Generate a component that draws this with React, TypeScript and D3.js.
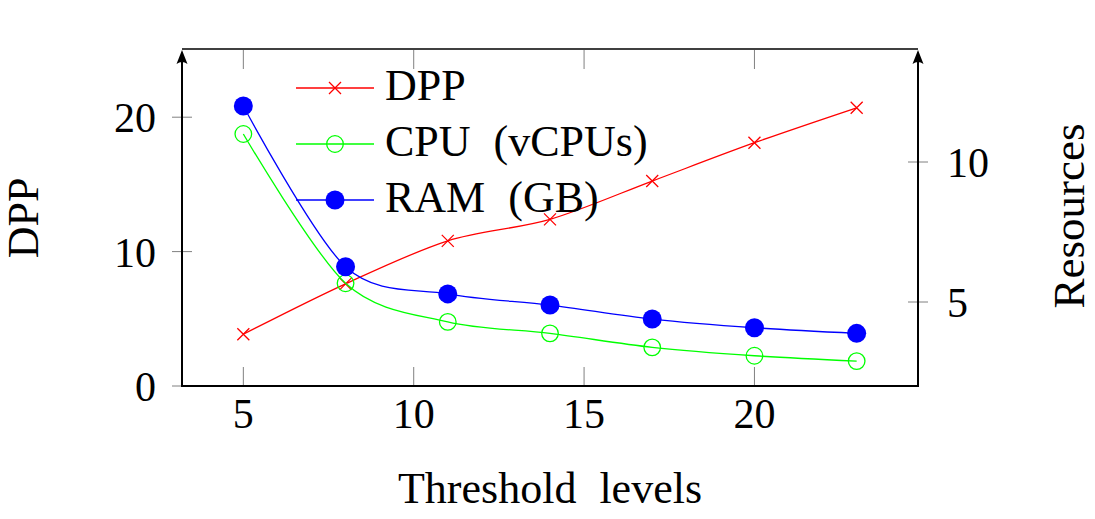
import React from "react";
import * as d3 from "d3";

const thresholds = [5, 8, 11, 14, 17, 20, 23];
const dppValues = [3.85, 7.6, 10.8, 12.4, 15.25, 18.1, 20.7];
const cpuValues = [11, 5.67, 4.29, 3.88, 3.38, 3.08, 2.89];
const ramValues = [12, 6.26, 5.29, 4.89, 4.39, 4.08, 3.88];
const xTicks = [5, 10, 15, 20];
const leftTicks = [0, 10, 20];
const rightTicks = [5, 10];
const legendLabels = ["DPP", "CPU (vCPUs)", "RAM (GB)"];

const W = 1095;
const H = 519;
const L = 182, R = 918, T = 50, B = 386;
const FONT = "'Liberation Serif', 'Times New Roman', serif";

export default function App() {
  const x = d3.scaleLinear().domain([3.2, 24.8]).range([L, R]);
  const yL = d3.scaleLinear().domain([0, 25]).range([B, T]);
  const yR = d3.scaleLinear().domain([2, 14]).range([B, T]);

  const curve = d3.curveCardinal.tension(0.08);
  const lineL = d3.line<number>().x((_, i) => x(thresholds[i])).y((d) => yL(d)).curve(curve);
  const lineR = d3.line<number>().x((_, i) => x(thresholds[i])).y((d) => yR(d)).curve(curve);

  const cross = (cx: number, cy: number, s = 6) =>
    `M${cx - s},${cy - s}L${cx + s},${cy + s}M${cx - s},${cy + s}L${cx + s},${cy - s}`;

  const arrow = (ax: number, ay: number) =>
    `M${ax},${ay} L${ax + 5.5},${ay + 14} Q${ax},${ay + 10} ${ax - 5.5},${ay + 14} Z`;

  const legendRows = [T + 38, T + 94, T + 150];
  const lx0 = 296, lx1 = 374, lmx = 335, ltx = 385;

  return (
    <svg width={W} height={H} style={{ position: "absolute", left: 0, top: 0, background: "#fff" }}
      fontFamily={FONT}>
      <rect x={0} y={0} width={W} height={H} fill="#fff" />
      {/* ticks */}
      {xTicks.map((t) => (
        <g key={"xt" + t} stroke="#808080" strokeWidth={1}>
          <line x1={x(t)} x2={x(t)} y1={B} y2={B - 19} />
          <line x1={x(t)} x2={x(t)} y1={T} y2={T + 19} />
        </g>
      ))}
      {leftTicks.map((t) => (
        <line key={"lt" + t} x1={L - 10} x2={L + 10} y1={yL(t)} y2={yL(t)} stroke="#808080" strokeWidth={1} />
      ))}
      {rightTicks.map((t) => (
        <line key={"rt" + t} x1={R - 10} x2={R + 10} y1={yR(t)} y2={yR(t)} stroke="#808080" strokeWidth={1} />
      ))}

      {/* series */}
      <path d={lineL(dppValues) || ""} fill="none" stroke="#ff0000" strokeWidth={1.3} />
      {dppValues.map((v, i) => (
        <path key={"dm" + i} d={cross(x(thresholds[i]), yL(v))} stroke="#ff0000" strokeWidth={1.3} fill="none" />
      ))}
      <path d={lineR(cpuValues) || ""} fill="none" stroke="#00ff00" strokeWidth={1.3} />
      {cpuValues.map((v, i) => (
        <circle key={"cm" + i} cx={x(thresholds[i])} cy={yR(v)} r={8.3} fill="none" stroke="#00ff00" strokeWidth={1.3} />
      ))}
      <path d={lineR(ramValues) || ""} fill="none" stroke="#0000ff" strokeWidth={1.3} />
      {ramValues.map((v, i) => (
        <circle key={"rm" + i} cx={x(thresholds[i])} cy={yR(v)} r={9.5} fill="#0000ff" />
      ))}

      {/* axis lines */}
      <line x1={L} x2={R} y1={B} y2={B} stroke="#000" strokeWidth={2} />
      <line x1={L} x2={R} y1={T - 1} y2={T - 1} stroke="#000" strokeWidth={1.6} />
      <line x1={L} x2={L} y1={B + 1} y2={T + 6} stroke="#000" strokeWidth={2} />
      <line x1={R} x2={R} y1={B + 1} y2={T + 6} stroke="#000" strokeWidth={2} />
      <path d={arrow(L, T)} fill="#000" />
      <path d={arrow(R, T)} fill="#000" />

      {/* tick labels */}
      {xTicks.map((t) => (
        <text key={"xl" + t} x={x(t)} y={428} textAnchor="middle" fontSize={42}>{t}</text>
      ))}
      {leftTicks.map((t) => (
        <text key={"ll" + t} x={156} y={yL(t) + 15} textAnchor="end" fontSize={42}>{t}</text>
      ))}
      {rightTicks.map((t) => (
        <text key={"rt" + t} x={947} y={yR(t) + 15} textAnchor="start" fontSize={42}>{t}</text>
      ))}

      {/* axis labels */}
      <text x={(L + R) / 2} y={503} textAnchor="middle" fontSize={44} wordSpacing={12}>Threshold levels</text>
      <text transform={`translate(38,${(T + B) / 2}) rotate(-90)`} textAnchor="middle" fontSize={44}>DPP</text>
      <text transform={`translate(1084,${(T + B) / 2 - 2}) rotate(-90)`} textAnchor="middle" fontSize={45}>Resources</text>

      {/* legend */}
      <line x1={lx0} x2={lx1} y1={legendRows[0]} y2={legendRows[0]} stroke="#ff0000" strokeWidth={1.3} />
      <path d={cross(lmx, legendRows[0])} stroke="#ff0000" strokeWidth={1.3} fill="none" />
      <line x1={lx0} x2={lx1} y1={legendRows[1]} y2={legendRows[1]} stroke="#00ff00" strokeWidth={1.3} />
      <circle cx={lmx} cy={legendRows[1]} r={8.3} fill="none" stroke="#00ff00" strokeWidth={1.3} />
      <line x1={lx0} x2={lx1} y1={legendRows[2]} y2={legendRows[2]} stroke="#0000ff" strokeWidth={1.3} />
      <circle cx={lmx} cy={legendRows[2]} r={9.5} fill="#0000ff" />
      {legendLabels.map((lab, i) => (
        <text key={"lg" + i} x={ltx} y={legendRows[i] + 12} fontSize={44} wordSpacing={12}>{lab}</text>
      ))}
    </svg>
  );
}
